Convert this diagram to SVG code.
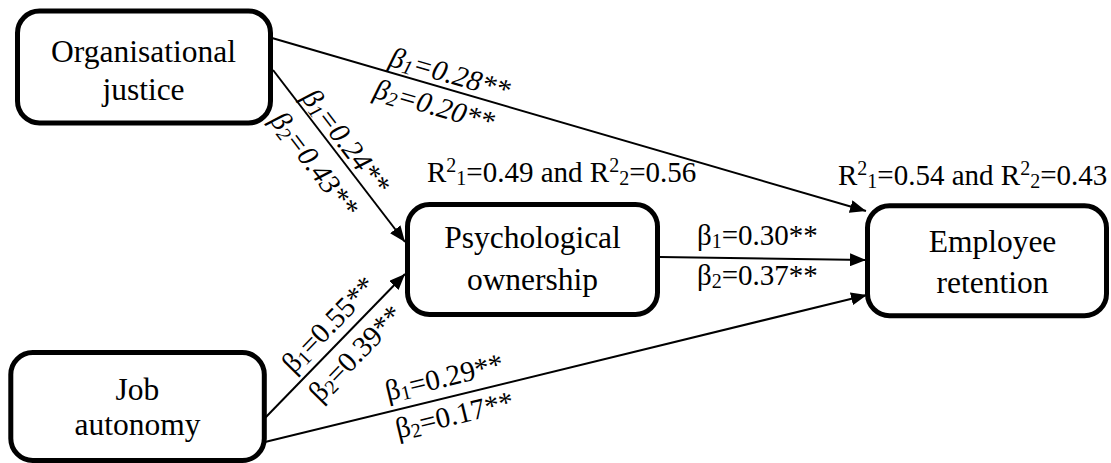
<svg xmlns="http://www.w3.org/2000/svg" width="1111" height="463" viewBox="0 0 1111 463">
<defs>
<style>
.box{fill:#fff;stroke:#000;stroke-width:5}
.nt{font-size:31.5px;fill:#000;text-anchor:middle}
.lb{font-size:29px;fill:#000}
.it{font-style:italic}
.con{stroke:#000;stroke-width:2;fill:none;marker-end:url(#ah)}
</style>
<marker id="ah" markerWidth="17" markerHeight="13" refX="16" refY="6.5" orient="auto" markerUnits="userSpaceOnUse">
<path d="M0,0 L16,6.5 L0,13 Z" fill="#000"/>
</marker>
</defs>
<rect width="1111" height="463" fill="#fff"/>
<g id="connectors">
<line class="con" x1="272" y1="38" x2="866" y2="211"/>
<line class="con" x1="273" y1="70" x2="405" y2="242"/>
<line class="con" x1="265" y1="418" x2="405" y2="274"/>
<line class="con" x1="265" y1="442" x2="867" y2="295"/>
<line class="con" x1="660" y1="257" x2="866" y2="260"/>
</g>
<g font-family="'Liberation Serif', 'Times New Roman', Times, serif">
<g id="node-org">
<rect class="box" x="17.5" y="11" width="253" height="112" rx="22"/>
<text class="nt" x="143.5" y="62">Organisational</text>
<text class="nt" x="143.5" y="100">justice</text>
</g>
<g id="node-psych">
<rect class="box" x="407.5" y="204.5" width="250" height="110" rx="22"/>
<text class="nt" x="532.5" y="248">Psychological</text>
<text class="nt" x="532.5" y="290">ownership</text>
</g>
<g id="node-emp">
<rect class="box" x="867.5" y="205.8" width="239" height="110" rx="22"/>
<text class="nt" x="992.5" y="252">Employee</text>
<text class="nt" x="992.5" y="293">retention</text>
</g>
<g id="node-job">
<rect class="box" x="10.8" y="352.5" width="253.5" height="108" rx="22"/>
<text class="nt" x="137.5" y="400">Job</text>
<text class="nt" x="137.5" y="435">autonomy</text>
</g>
<g id="labels">
<g transform="translate(388,71.7) rotate(16.24)">
<text class="lb it" x="-2" y="-6">β<tspan font-size="20" dy="3">1</tspan><tspan dy="-3">=0.28**</tspan></text>
<text class="lb it" x="-8" y="29">β<tspan font-size="20" dy="3">2</tspan><tspan dy="-3">=0.20**</tspan></text>
</g>
<g transform="translate(273,70) rotate(52.5)">
<text class="lb it" x="39" y="-5">β<tspan font-size="20" dy="3">1</tspan><tspan dy="-3">=0.24**</tspan></text>
<text class="lb it" x="38" y="34">β<tspan font-size="20" dy="3">2</tspan><tspan dy="-3">=0.43**</tspan></text>
</g>
<g transform="translate(265,418) rotate(-45.8)">
<text class="lb" x="51" y="-10">β<tspan font-size="20" dy="3">1</tspan><tspan dy="-3">=0.55**</tspan></text>
<text class="lb" x="49" y="29.5">β<tspan font-size="20" dy="3">2</tspan><tspan dy="-3">=0.39**</tspan></text>
</g>
<g transform="translate(265,442) rotate(-13.66)">
<text class="lb" x="129" y="-11">β<tspan font-size="20" dy="3">1</tspan><tspan dy="-3">=0.29**</tspan></text>
<text class="lb" x="130" y="28">β<tspan font-size="20" dy="3">2</tspan><tspan dy="-3">=0.17**</tspan></text>
</g>
<text class="lb" x="697" y="245">β<tspan font-size="20" dy="3">1</tspan><tspan dy="-3">=0.30**</tspan></text>
<text class="lb" x="697" y="285">β<tspan font-size="20" dy="3">2</tspan><tspan dy="-3">=0.37**</tspan></text>
<text class="lb" x="427" y="182">R<tspan font-size="20" dy="-10">2</tspan><tspan font-size="20" dy="13">1</tspan><tspan dy="-3">=0.49 and R</tspan><tspan font-size="20" dy="-10">2</tspan><tspan font-size="20" dy="13">2</tspan><tspan dy="-3">=0.56</tspan></text>
<text class="lb" x="838" y="185">R<tspan font-size="20" dy="-10">2</tspan><tspan font-size="20" dy="13">1</tspan><tspan dy="-3">=0.54 and R</tspan><tspan font-size="20" dy="-10">2</tspan><tspan font-size="20" dy="13">2</tspan><tspan dy="-3">=0.43</tspan></text>
</g>
</g>
</svg>
